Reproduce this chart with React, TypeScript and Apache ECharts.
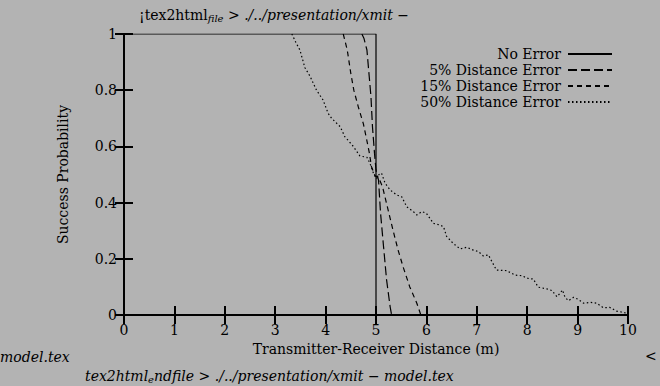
import React, { useEffect, useRef } from "react";
import * as echarts from "echarts";

const xTicks = [0, 10];
const yRange = [0, 1];
const seriesNames = ["No Error", "5% Distance Error", "15% Distance Error", "50% Distance Error"];

const noError: number[][] = [[0, 1], [5, 1], [5, 0], [10, 0]];

const err5: number[][] = [
  [4.72, 1.0], [4.76, 0.985], [4.82, 0.943], [4.86, 0.86], [4.9, 0.777], [4.93, 0.67],
  [4.97, 0.576], [5.0, 0.516], [5.05, 0.48], [5.09, 0.363], [5.15, 0.243],
  [5.21, 0.125], [5.28, 0.03], [5.31, 0.0],
];

const err15: number[][] = [
  [4.35, 1.0], [4.43, 0.943], [4.5, 0.86], [4.56, 0.8], [4.65, 0.74], [4.75, 0.68],
  [4.82, 0.62], [4.87, 0.575], [4.91, 0.528], [4.98, 0.495], [5.05, 0.49], [5.13, 0.456],
  [5.24, 0.374], [5.34, 0.3], [5.44, 0.23], [5.54, 0.17], [5.67, 0.1], [5.81, 0.042],
  [5.89, 0.0],
];

const err50: number[][] = [
  [3.33, 1.0], [3.41, 0.97], [3.49, 0.943], [3.59, 0.88], [3.69, 0.85], [3.82, 0.8],
  [3.95, 0.765], [4.05, 0.718], [4.12, 0.7], [4.29, 0.67], [4.38, 0.635], [4.55, 0.6],
  [4.68, 0.566], [4.82, 0.561], [4.88, 0.54], [4.95, 0.504], [5.01, 0.485], [5.06, 0.5],
  [5.11, 0.505], [5.18, 0.469], [5.28, 0.445], [5.41, 0.427], [5.51, 0.421], [5.61, 0.385],
  [5.74, 0.368], [5.81, 0.356], [5.91, 0.368], [6.0, 0.362], [6.14, 0.326], [6.27, 0.32],
  [6.34, 0.314], [6.4, 0.28], [6.53, 0.255], [6.67, 0.235], [6.8, 0.241], [6.93, 0.231],
  [7.03, 0.226], [7.13, 0.21], [7.23, 0.214], [7.3, 0.19], [7.39, 0.16], [7.59, 0.158],
  [7.76, 0.142], [7.89, 0.14], [8.02, 0.13], [8.12, 0.128], [8.22, 0.099], [8.39, 0.093],
  [8.49, 0.087], [8.59, 0.065], [8.65, 0.077], [8.7, 0.089], [8.75, 0.063], [8.82, 0.051],
  [8.92, 0.063], [9.01, 0.056], [9.12, 0.042], [9.25, 0.045], [9.38, 0.042], [9.51, 0.026],
  [9.64, 0.027], [9.77, 0.014], [9.89, 0.01], [10.0, 0.005],
];

const FONT = "DejaVu Serif";

export default function App() {
  const ref = useRef<HTMLDivElement>(null);
  useEffect(() => {
    if (!ref.current) return;
    const chart = echarts.init(ref.current, null, { renderer: "svg" });
    const axisCommon = {
      type: "value" as const,
      axisLine: { show: true, lineStyle: { color: "#000", width: 2 } },
      axisTick: { show: true, inside: true, length: 9, lineStyle: { color: "#000", width: 2 } },
      splitLine: { show: false },
    };
    const labelStyle = { color: "#000", fontFamily: FONT, fontSize: 14, fontWeight: "normal" as const };
    const dashTypes: any[] = ["solid", [9, 4], [5, 4], [1.5, 2.5]];
    const datasets = [noError, err5, err15, err50];
    chart.setOption({
      animation: false,
      backgroundColor: "#b3b3b3",
      title: {
        left: 134,
        top: 0,
        text: "{a|¡tex2html}{b|file}{c| > ./../presentation/xmit −}",
        textStyle: {
          fontWeight: "normal",
          fontFamily: FONT,
          rich: {
            a: { fontFamily: FONT, fontSize: 14, fontWeight: "normal", color: "#000", lineHeight: 20 },
            b: { fontFamily: FONT, fontSize: 10, fontWeight: "normal", fontStyle: "italic", color: "#000", padding: [7, 0, 0, 0] },
            c: { fontFamily: FONT, fontSize: 14, fontWeight: "normal", fontStyle: "italic", color: "#000", lineHeight: 20 },
          },
        },
      },
      legend: {
        right: 42,
        top: 41,
        orient: "vertical",
        align: "right",
        itemWidth: 44,
        itemHeight: 14,
        itemGap: 0,
        itemStyle: { opacity: 0 },
        textStyle: { color: "#000", fontFamily: FONT, fontSize: 14, lineHeight: 16, padding: [0, 2, 0, 0] },
        data: seriesNames,
      },
      grid: { left: 124, right: 32, top: 34, bottom: 71 },
      xAxis: [
        {
          ...axisCommon,
          min: xTicks[0],
          max: xTicks[1],
          interval: 1,
          position: "bottom",
          axisLabel: { ...labelStyle, margin: 8 },
          name: "Transmitter-Receiver Distance (m)",
          nameLocation: "middle",
          nameGap: 27,
          nameTextStyle: labelStyle,
        },
        {
          ...axisCommon,
          min: xTicks[0],
          max: xTicks[1],
          interval: 1,
          position: "top",
          axisLabel: { show: false },
        },
      ],
      yAxis: [
        {
          ...axisCommon,
          min: yRange[0],
          max: yRange[1],
          interval: 0.2,
          position: "left",
          axisLabel: { ...labelStyle, margin: 7 },
          name: "Success Probability",
          nameLocation: "middle",
          nameGap: 54,
          nameTextStyle: labelStyle,
        },
        {
          ...axisCommon,
          min: yRange[0],
          max: yRange[1],
          interval: 0.2,
          position: "right",
          axisLabel: { show: false },
        },
      ],
      series: datasets.map((d, i) => ({
        name: seriesNames[i],
        type: "line",
        data: d,
        symbol: "none",
        clip: true,
        lineStyle: { color: "#000", width: 1.2, type: dashTypes[i] },
        itemStyle: { color: "#000" },
      })),
      graphic: [
        {
          type: "text",
          left: 0,
          top: 350,
          style: { text: "model.tex", font: "italic 14px " + FONT, fill: "#000" },
        },
        {
          type: "text",
          left: 645,
          top: 349,
          style: { text: "<", font: "14px " + FONT, fill: "#000" },
        },
        {
          type: "text",
          left: 85,
          top: 369,
          style: {
            text: "{a|tex2html}{b|e}{a|ndfile > ./../presentation/xmit − model.tex}",
            fill: "#000",
            font: "italic 14px " + FONT,
            rich: {
              a: { fontFamily: FONT, fontSize: 14, fontStyle: "italic", fill: "#000" },
              b: { fontFamily: FONT, fontSize: 10, fontStyle: "italic", fill: "#000", padding: [6, 0, 0, 0] },
            },
          },
        },
      ],
    });
    return () => chart.dispose();
  }, []);
  return (
    <div
      ref={ref}
      style={{ position: "fixed", left: 0, top: 0, width: 660, height: 386 }}
    />
  );
}
